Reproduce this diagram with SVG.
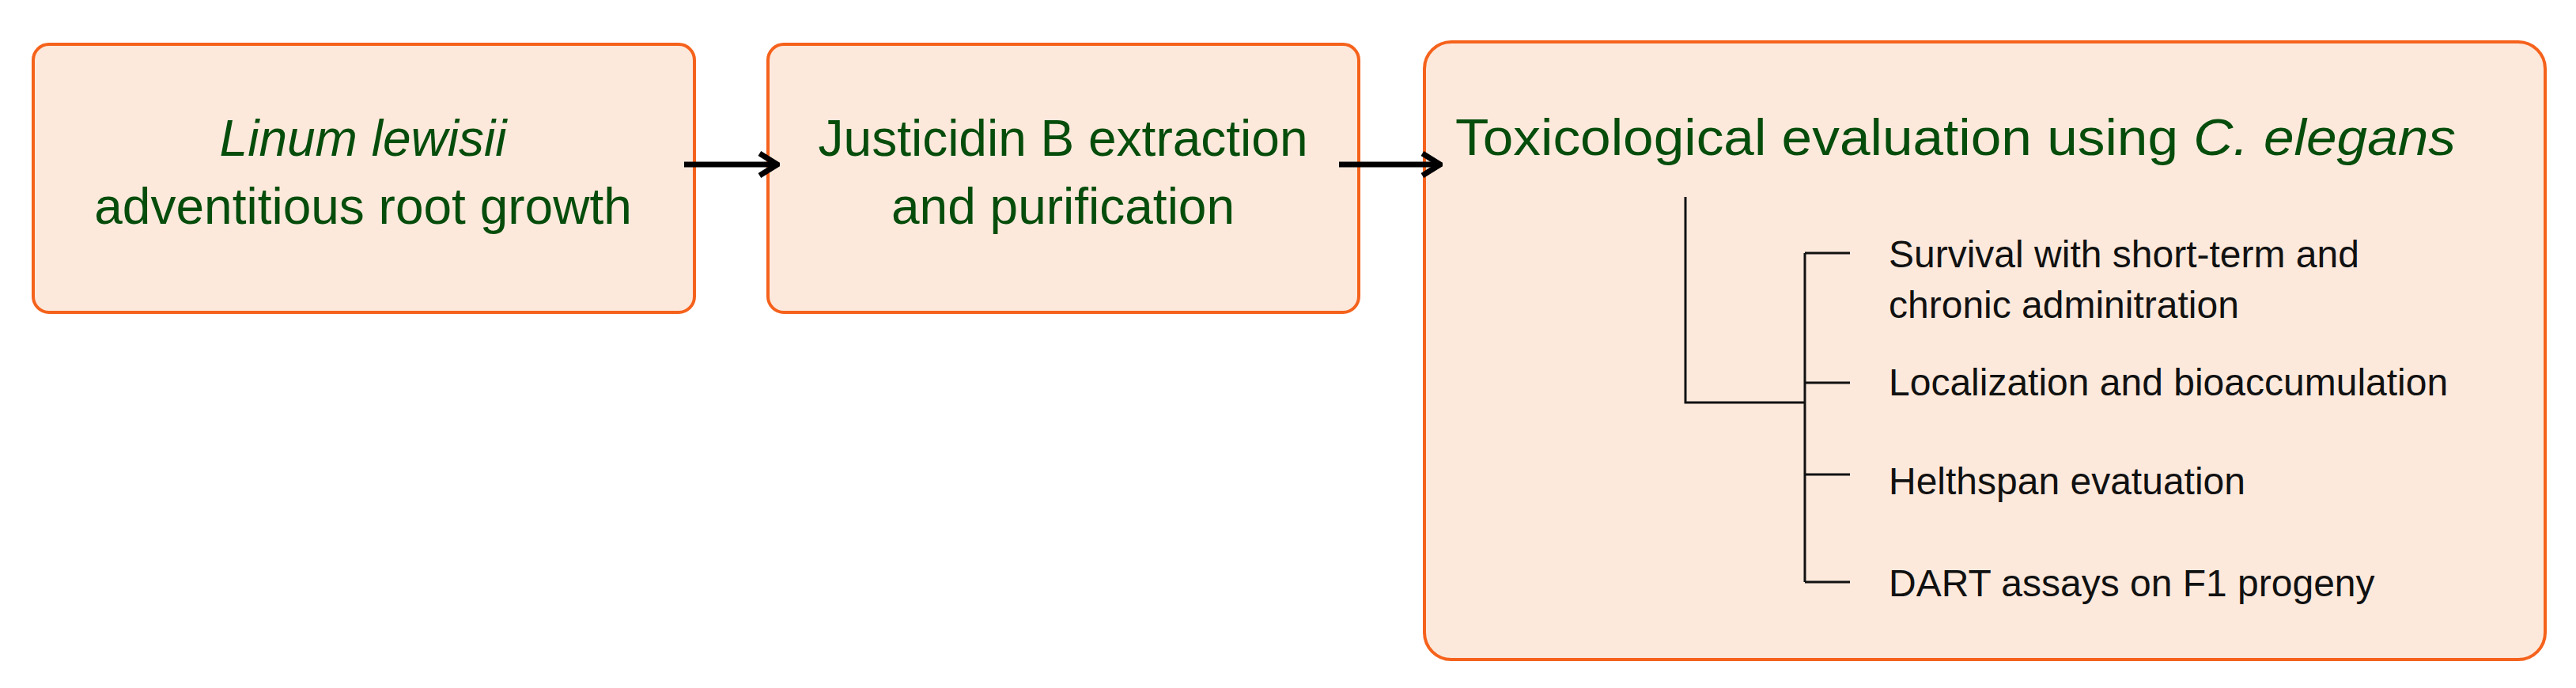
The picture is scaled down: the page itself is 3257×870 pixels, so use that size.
<svg xmlns="http://www.w3.org/2000/svg" width="3257" height="870" viewBox="0 0 3257 870">
<style>
.box{fill:#fde9dc;stroke:#f5621c;stroke-width:4}
.t{font-family:"Liberation Sans",Arial,sans-serif;fill:#064d0c;font-size:64px}
.s{font-family:"Liberation Sans",Arial,sans-serif;fill:#111;font-size:48px}
.ln{stroke:#111;stroke-width:3;fill:none}
.ar{stroke:#000;stroke-width:7;fill:none}
</style>
<defs><marker id="ah" viewBox="0 0 10 10" refX="8" refY="5" markerWidth="4" markerHeight="5" orient="auto" markerUnits="strokeWidth"><path d="M1,0 L9,5 L1,10" fill="none" stroke="#000" stroke-width="2.5"/></marker></defs>
<rect width="3257" height="870" fill="#fff"/>
<g id="n1"><rect class="box" x="42" y="56" width="836" height="339" rx="20"/>
<text class="t" x="459" y="197" text-anchor="middle" font-style="italic">Linum lewisii</text>
<text class="t" x="459" y="283" text-anchor="middle">adventitious root growth</text></g>
<g id="n2"><rect class="box" x="971" y="56" width="747" height="339" rx="20"/>
<text class="t" x="1344" y="197" text-anchor="middle">Justicidin B extraction</text>
<text class="t" x="1344" y="283" text-anchor="middle">and purification</text></g>
<g id="n3"><rect class="box" x="1801" y="53" width="1417" height="781" rx="34" stroke-width="6"/>
<text class="t" x="1840" y="196" font-size="67" textLength="1265" lengthAdjust="spacingAndGlyphs">Toxicological evaluation using <tspan font-style="italic">C. elegans</tspan></text>
<text class="s" x="2388" y="338">Survival with short-term and</text>
<text class="s" x="2388" y="402">chronic adminitration</text>
<text class="s" x="2388" y="500">Localization and bioaccumulation</text>
<text class="s" x="2388" y="625">Helthspan evatuation</text>
<text class="s" x="2388" y="754">DART assays on F1 progeny</text></g>
<g id="connectors">
<path class="ar" d="M865,208 H980" marker-end="url(#ah)"/>
<path class="ar" d="M1693,208 H1818" marker-end="url(#ah)"/>
<path class="ln" d="M2131,249 V509 H2282 M2282,320 V736 M2282,320 H2339 M2282,484 H2339 M2282,600 H2339 M2282,736 H2339"/>
</g>
</svg>
